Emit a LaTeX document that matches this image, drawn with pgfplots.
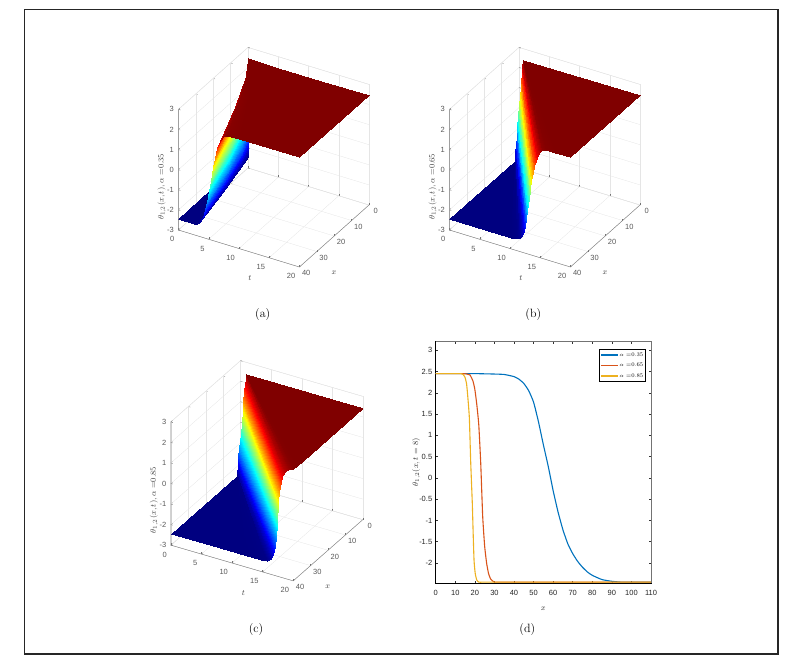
\documentclass[border=0pt]{standalone}
\usepackage{fontspec}
\usepackage{pgfplots}
\pgfplotsset{compat=1.18}
\newfontfamily\tickfont{Liberation Sans}
\definecolor{mblue}{HTML}{0072BD}
\definecolor{mred}{HTML}{D95319}
\definecolor{myellow}{HTML}{EDB120}
\tikzset{lab3d/.style={font=\fontsize{8}{9}\selectfont,text=black!75,anchor=center}}
\pgfplotsset{
  front3d/.style={
    xmin=0,xmax=20,ymin=0,ymax=40,zmin=-3,zmax=3,
    y dir=reverse,
    xtick={0,5,...,20},ytick={0,10,...,40},ztick={-3,-2,...,3},
    anchor=origin,
    grid=major,
    grid style={black!10,line width=0.3pt},
    axis line style={black!14,line width=0.3pt},
    tick pos=left,
    tick style={black!55,line width=0.3pt},
    major tick length=2pt,
    clip=false,
    /pgf/number format/assume math mode=true,
    tick label style={font=\tickfont\fontsize{7.5}{8}\selectfont,text=black!65},
    xticklabel style={anchor=north east,inner sep=0pt,xshift=-4pt,yshift=-6.5pt},
    yticklabel style={anchor=center,inner sep=0pt,xshift=6.8pt,yshift=-6.4pt},
    zticklabel style={anchor=east,inner sep=0pt,xshift=-4.5pt},
    colormap/jet,
    point meta min=-2.45,point meta max=2.45,
    after end axis/.code={
      \draw[black!50,line width=0.4pt] (axis cs:0,40,3)--(axis cs:0,40,-3)
        --(axis cs:20,40,-3)--(axis cs:20,0,-3);
    },
  },
  fan/.style={surf,shader=interp,z buffer=none,mesh/cols=2},
}
\begin{document}
\begin{tikzpicture}
\useasboundingbox (0,0) rectangle (810pt,670pt);
\draw[line width=1.3pt,black!85] (24.5pt,660.5pt) rectangle (778pt,16pt);

% panel a
\begin{axis}[front3d,at={(248pt,562.3pt)},
  x={(6.05pt,-1.85pt)},y={(1.74pt,1.55pt)},z={(0pt,20.1pt)},
  xlabel={$t$},ylabel={$x$},zlabel={$\theta_{1,2}(x,t),\alpha$ =0.35},
  every axis x label/.style={at={(axis cs:15.4,52.5,-3)},lab3d},
  every axis y label/.style={at={(axis cs:25.1,37.8,-3)},lab3d},
  every axis z label/.style={at={(axis cs:-2.76,40,-1.11)},lab3d,rotate=90}]
\addplot3[fan,mesh/cols=4] table[row sep=\\] {
 t x z\\
 0 0 -2.45\\ 0 7.6 -2.45\\ 0 21.6 -2.45\\ 0 40 -2.45\\
 0 0 -2.45\\ 0.625 7.6 -2.45\\ 1.5 21.6 -2.45\\ 2.5 40 -2.45\\
 0 0 -2.44\\ 0.714 7.6 -2.44\\ 1.714 21.6 -2.44\\ 2.857 40 -2.44\\
 0 0 -2.40\\ 0.769 7.6 -2.40\\ 1.846 21.6 -2.40\\ 3.077 40 -2.40\\
 0 0 -2.33\\ 0.833 7.6 -2.33\\ 2 21.6 -2.33\\ 3.333 40 -2.33\\
 0 0 -2.22\\ 0.909 7.6 -2.22\\ 2.182 21.6 -2.22\\ 3.636 40 -2.22\\
 0 0 -1.98\\ 1 7.6 -1.98\\ 2.4 21.6 -1.98\\ 4 40 -1.98\\
 0 0 -1.80\\ 1.053 7.6 -1.80\\ 2.527 21.6 -1.80\\ 4.211 40 -1.80\\
 0 0 -1.55\\ 1.111 7.6 -1.55\\ 2.667 21.6 -1.55\\ 4.444 40 -1.55\\
 0 0 -1.15\\ 1.176 7.6 -1.15\\ 2.824 21.6 -1.15\\ 4.706 40 -1.15\\
 0 0 -0.60\\ 1.25 7.6 -0.60\\ 3 21.6 -0.60\\ 5 40 -0.60\\
 0 0 -0.05\\ 1.333 7.6 -0.05\\ 3.2 21.6 -0.05\\ 5.333 40 -0.05\\
 0 0 0.65\\ 1.429 7.6 0.65\\ 3.428 21.6 0.65\\ 5.714 40 0.65\\
 0 0 1.15\\ 1.515 7.6 1.15\\ 3.637 21.6 1.15\\ 6.061 40 1.15\\
 0 0 1.65\\ 1.613 7.6 1.65\\ 3.871 21.6 1.65\\ 6.452 40 1.65\\
 0 0 2.08\\ 1.724 7.6 2.08\\ 4.138 21.6 2.08\\ 6.897 40 2.08\\
 0 0 2.33\\ 1.852 7.6 2.33\\ 4.444 21.6 2.33\\ 7.407 40 2.33\\
 0 0 2.42\\ 2 7.6 2.42\\ 4.8 21.6 2.42\\ 8 40 2.42\\
 0 0 2.45\\ 2.5 7.6 2.45\\ 6 21.6 2.45\\ 10 40 2.45\\
 0 0 2.45\\ 5 7.6 2.45\\ 12 21.6 2.45\\ 20 40 2.45\\
 0 0 2.45\\ 5 0 2.45\\ 12 0 2.45\\ 20 0 2.45\\
};
\end{axis}

% panel b
\begin{axis}[front3d,at={(519pt,562.3pt)},
  x={(6.05pt,-1.85pt)},y={(1.74pt,1.55pt)},z={(0pt,20.1pt)},
  xlabel={$t$},ylabel={$x$},zlabel={$\theta_{1,2}(x,t),\alpha$ =0.65},
  every axis x label/.style={at={(axis cs:15.4,52.5,-3)},lab3d},
  every axis y label/.style={at={(axis cs:25.1,37.8,-3)},lab3d},
  every axis z label/.style={at={(axis cs:-2.76,40,-1.11)},lab3d,rotate=90}]
\addplot3[fan] table[row sep=\\] {
 t x z\\
 0 2.4 -2.45\\ 0 40 -2.45\\
 0 2.4 -2.45\\ 8 40 -2.45\\
 0 2.4 -2.45\\ 10.256 40 -2.45\\
 0 2.39 -2.42\\ 11.111 40 -2.42\\
 0.013 2.35 -2.34\\ 11.594 40 -2.34\\
 0.043 2.23 -2.10\\ 12.121 40 -2.10\\
 0.098 2.01 -1.65\\ 12.5 40 -1.65\\
 0.147 1.81 -1.25\\ 12.698 40 -1.25\\
 0.2 1.59 -0.80\\ 12.903 40 -0.80\\
 0.27 1.32 -0.25\\ 13.115 40 -0.25\\
 0.33 1.08 0.25\\ 13.333 40 0.25\\
 0.39 0.85 0.72\\ 13.559 40 0.72\\
 0.44 0.65 1.12\\ 13.793 40 1.12\\
 0.48 0.48 1.46\\ 14.035 40 1.46\\
 0.51 0.34 1.75\\ 14.286 40 1.75\\
 0.54 0.23 1.98\\ 14.545 40 1.98\\
 0.57 0.14 2.17\\ 14.815 40 2.17\\
 0.59 0.03 2.38\\ 15.385 40 2.38\\
 0.6 0.01 2.43\\ 16 40 2.43\\
 0.6 0 2.45\\ 17.391 40 2.45\\
 0.6 0 2.45\\ 20 40 2.45\\
 0.6 0 2.45\\ 20 0 2.45\\
};
\end{axis}

% panel c
\begin{axis}[front3d,at={(240.5pt,247.7pt)},
  x={(6.115pt,-1.785pt)},y={(1.74pt,1.53pt)},z={(0pt,20.55pt)},
  xlabel={$t$},ylabel={$x$},zlabel={$\theta_{1,2}(x,t),\alpha$ =0.85},
  every axis x label/.style={at={(axis cs:15.6,53.1,-3)},lab3d},
  every axis y label/.style={at={(axis cs:25.1,38,-3)},lab3d},
  every axis z label/.style={at={(axis cs:-2.76,40,-1.04)},lab3d,rotate=90}]
\addplot3[fan] table[row sep=\\] {
 t x z\\
 0 2.2 -2.45\\ 0 40 -2.45\\
 0 2.2 -2.45\\ 8 40 -2.45\\
 0 2.2 -2.45\\ 12.5 40 -2.45\\
 0 2.2 -2.44\\ 14.815 40 -2.44\\
 0.01 2.19 -2.42\\ 15.686 40 -2.42\\
 0.04 2.11 -2.25\\ 16.327 40 -2.25\\
 0.08 2 -2.00\\ 16.667 40 -2.00\\
 0.17 1.8 -1.55\\ 16.949 40 -1.55\\
 0.25 1.59 -1.10\\ 17.241 40 -1.10\\
 0.37 1.3 -0.45\\ 17.391 40 -0.45\\
 0.58 0.79 0.70\\ 17.544 40 0.70\\
 0.65 0.61 1.10\\ 17.699 40 1.10\\
 0.75 0.36 1.65\\ 17.937 40 1.65\\
 0.81 0.22 1.95\\ 18.182 40 1.95\\
 0.85 0.11 2.20\\ 18.605 40 2.20\\
 0.88 0.04 2.36\\ 19.231 40 2.36\\
 0.9 0.01 2.43\\ 20 40 2.43\\
 0.9 0 2.45\\ 20 38 2.45\\
 0.9 0 2.45\\ 20 30 2.45\\
 0.9 0 2.45\\ 20 0 2.45\\
};
\end{axis}

% panel d
\begin{axis}[at={(435.7pt,87pt)},anchor=south west,scale only axis,
  width=215.3pt,height=241.3pt,
  xmin=0,xmax=110,ymin=-2.47,ymax=3.2,
  xtick={0,10,...,110},ytick={-2,-1.5,...,3},
  yticklabels={-2,-1.5,-1,-0.5,0,0.5,1,1.5,2,2.5,3},
  tick align=inside,major tick length=2.5pt,
  axis line style={black,line width=0.7pt},
  tick style={black!80,line width=0.5pt},
  /pgf/number format/assume math mode=true,
  tick label style={font=\tickfont\fontsize{7.5}{8}\selectfont,text=black!85},
  xticklabel style={yshift=-4pt},
  label style={font=\fontsize{8}{9}\selectfont,text=black!80},
  xlabel={$x$},ylabel={$\theta_{1,2}(x,t=8)$},
  xlabel shift=4pt,ylabel shift=-8pt,
  legend cell align=left,
  legend style={at={(0.975,0.97)},anchor=north east,draw=black,line width=0.6pt,
    font=\fontsize{5.5}{6.5}\selectfont,inner sep=1.5pt,row sep=2pt,
    nodes={inner sep=0.5pt,minimum height=8.5pt}},
  every axis plot/.append style={line width=1.1pt,smooth,tension=0.3},
  after end axis/.code={
    \draw[black!55,line width=0.8pt] (rel axis cs:0,1)--(rel axis cs:1,1)--(rel axis cs:1,0);
  },
]
\addplot[mblue] coordinates {
(0,2.45)(10,2.45)(20,2.45)(30,2.44)(35,2.43)(40,2.38)(42.5,2.32)(45,2.22)(47.5,2.05)
(50,1.78)(52.5,1.32)(55,0.78)(57.5,0.27)(60,-0.30)(62.5,-0.80)(65,-1.22)
(67.5,-1.55)(70,-1.78)(72.5,-1.96)(75,-2.10)(77.5,-2.21)(80,-2.29)(85,-2.39)
(90,-2.43)(95,-2.45)(100,-2.45)(110,-2.45)};
\addlegendentry{$\alpha$ =0.35}
\addplot[mred] coordinates {
(0,2.45)(7,2.45)(14,2.45)(16,2.44)(17.5,2.42)(19,2.28)(20,2.08)(21,1.72)(22,1.25)(23,0.35)
(24,-0.90)(25,-1.60)(26,-2.00)(27,-2.25)(28,-2.37)(29,-2.42)(30,-2.45)(33,-2.45)(40,-2.45)
(60,-2.45)(110,-2.45)};
\addlegendentry{$\alpha$ =0.65}
\addplot[myellow] coordinates {
(0,2.45)(7,2.45)(13,2.45)(14,2.43)(15,2.36)(15.8,2.20)(16.5,1.85)(17.2,1.40)(17.9,0.35)
(18.7,-0.60)(19.2,-1.40)(19.6,-1.95)(20.2,-2.25)(21,-2.40)(22,-2.45)(24,-2.45)(30,-2.45)
(60,-2.45)(110,-2.45)};
\addlegendentry{$\alpha$ =0.85}
\end{axis}

\node[font=\fontsize{12}{14}\selectfont] at (262.7pt,355pt) {(a)};
\node[font=\fontsize{12}{14}\selectfont] at (533.3pt,355pt) {(b)};
\node[font=\fontsize{12}{14}\selectfont] at (256pt,40.7pt) {(c)};
\node[font=\fontsize{12}{14}\selectfont] at (527.3pt,41pt) {(d)};
\end{tikzpicture}
\end{document}
